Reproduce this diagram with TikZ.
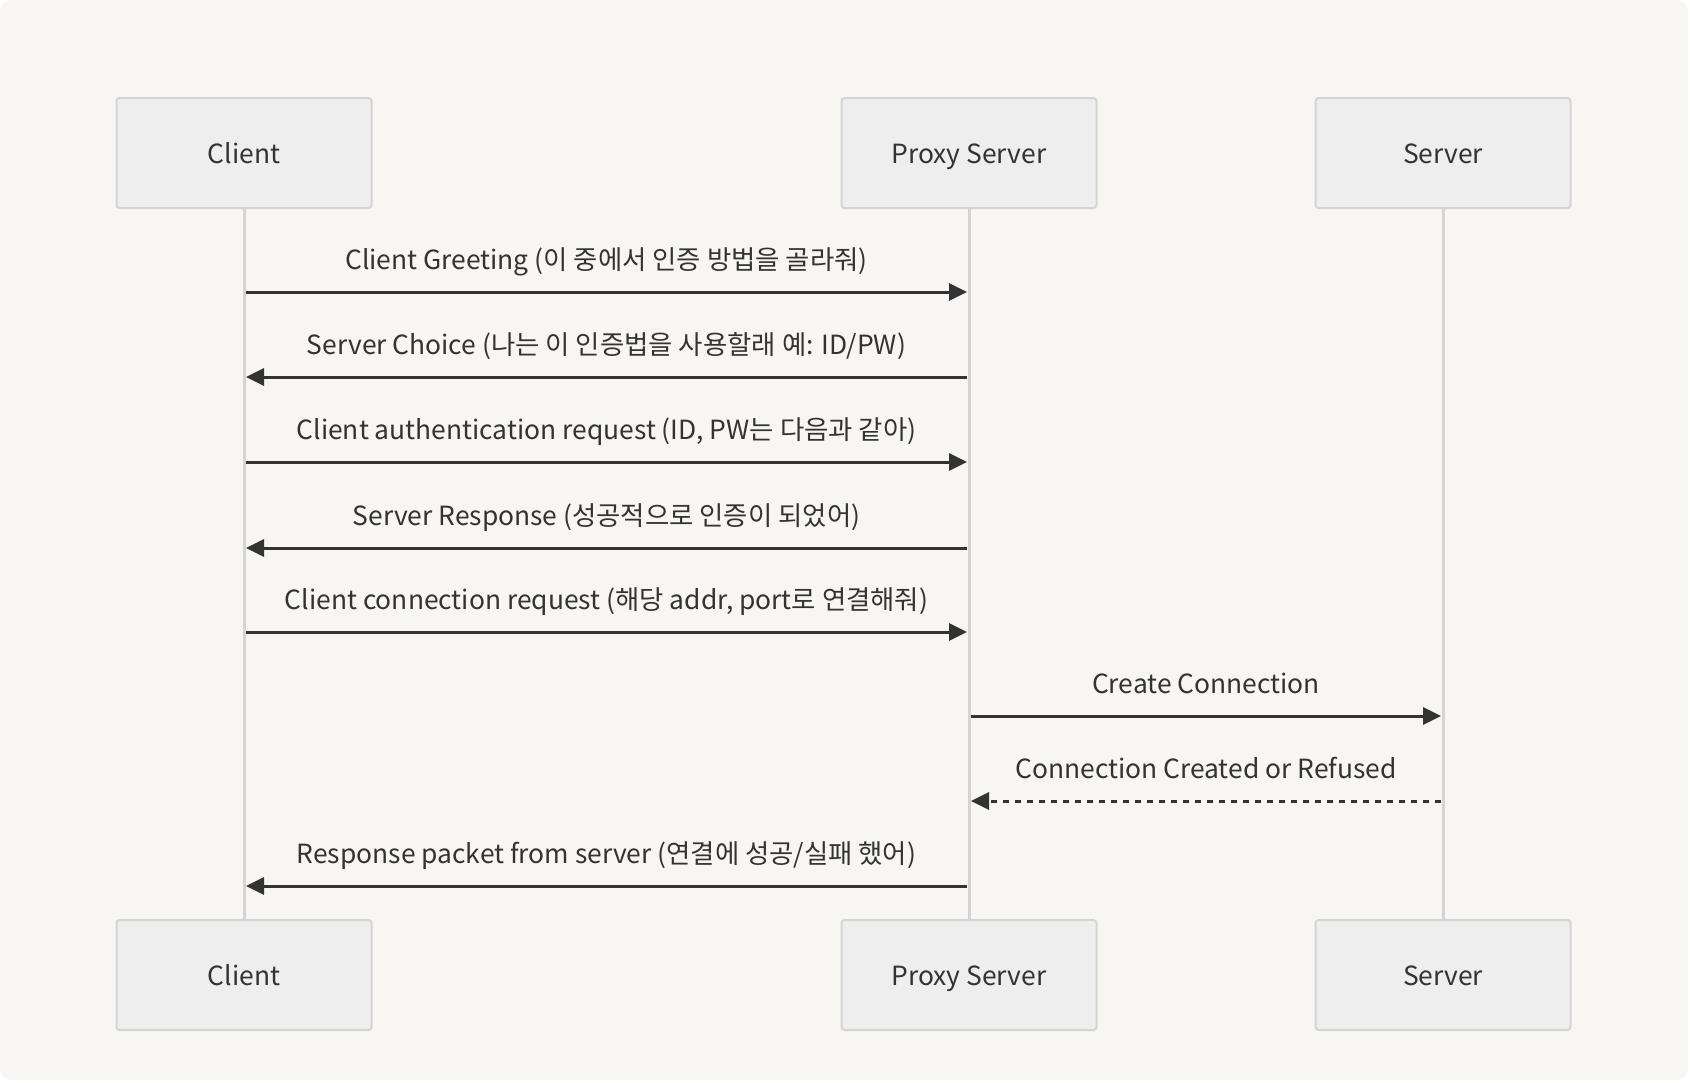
\documentclass[tikz,border=0pt]{standalone}
\usepackage{fontspec}
\setmainfont{Noto Sans CJK KR}
\usetikzlibrary{arrows.meta}
\definecolor{bgcol}{HTML}{F7F6F3}
\definecolor{boxfill}{HTML}{EEEEEE}
\definecolor{boxline}{HTML}{D4D4D4}
\definecolor{msgcol}{HTML}{333333}
\tikzset{
    actor/.style={draw=boxline, line width=1pt, fill=boxfill, rounded corners=1.5pt,
        minimum width=127.5pt, minimum height=55pt, text height=10pt, text depth=0pt,
        text=msgcol, font=\fontsize{13.2}{16}\selectfont},
    lifeline/.style={draw=boxline, line width=1.5pt},
    msg/.style={draw=msgcol, line width=1.5pt, -{Triangle[length=9pt, width=8.5pt]}},
    reply/.style={msg, dash pattern=on 3pt off 3pt},
    lbl/.style={midway, anchor=base, yshift=11.5pt, inner sep=0pt, text=msgcol,
        font=\fontsize{13.2}{16}\selectfont}
}
\begin{document}
\begin{tikzpicture}[x=0.5pt, y=-0.5pt]
    \useasboundingbox (0,0) rectangle (1690,1082);
    \fill[bgcol, rounded corners=6pt] (0,0) rectangle (1688,1080);
    % lifelines
    \node [actor] (clientT) at (244,153) {Client};
    \node [actor] (proxyT) at (969,153) {Proxy Server};
    \node [actor] (serverT) at (1443,153) {Server};
    \node [actor] (clientB) at (244,975) {Client};
    \node [actor] (proxyB) at (969,975) {Proxy Server};
    \node [actor] (serverB) at (1443,975) {Server};
    \draw [lifeline] (clientT) -- (clientB);
    \draw [lifeline] (proxyT) -- (proxyB);
    \draw [lifeline] (serverT) -- (serverB);
    % message rows
    \foreach \n/\y in {1/292, 2/377, 3/462, 4/548, 5/632, 6/716, 7/801, 8/886} {
        \coordinate (c\n) at (246,\y);
        \coordinate (pl\n) at (967,\y);
        \coordinate (pr\n) at (971,\y);
        \coordinate (s\n) at (1441,\y);
    }
    \draw [msg] (c1) -- (pl1) node [lbl] {Client Greeting (이 중에서 인증 방법을 골라줘)};
    \draw [msg] (pl2) -- (c2) node [lbl] {Server Choice (나는 이 인증법을 사용할래 예: ID/PW)};
    \draw [msg] (c3) -- (pl3) node [lbl] {Client authentication request (ID, PW는 다음과 같아)};
    \draw [msg] (pl4) -- (c4) node [lbl] {Server Response (성공적으로 인증이 되었어)};
    \draw [msg] (c5) -- (pl5) node [lbl] {Client connection request (해당 addr, port로 연결해줘)};
    \draw [msg] (pr6) -- (s6) node [lbl] {Create Connection};
    \draw [reply] (s7) -- (pr7) node [lbl] {Connection Created or Refused};
    \draw [msg] (pl8) -- (c8) node [lbl] {Response packet from server (연결에 성공/실패 했어)};
\end{tikzpicture}
\end{document}
